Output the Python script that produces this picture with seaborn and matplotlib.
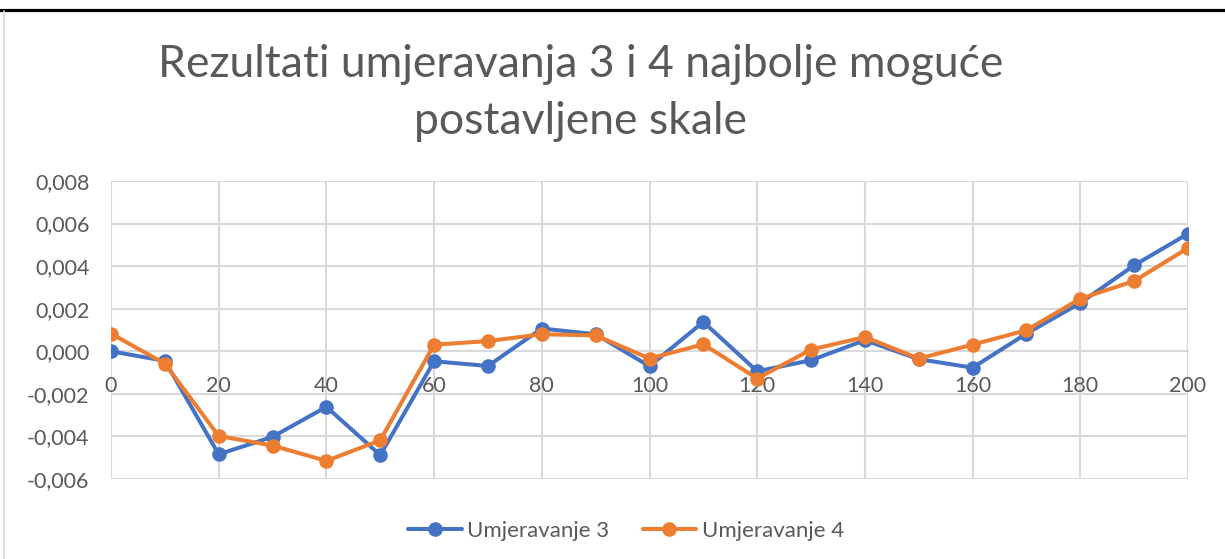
import matplotlib.pyplot as plt
import matplotlib.ticker as mticker
from matplotlib.lines import Line2D
import pandas as pd
import seaborn as sns

# Values
x_vals = [0, 10, 20, 30, 40, 50, 60, 70, 80, 90, 100,
          110, 120, 130, 140, 150, 160, 170, 180, 190, 200]
umjeravanje_3 = [0.0, -0.00045, -0.00484, -0.00402, -0.00261, -0.00488, -0.00047,
                 -0.00069, 0.00107, 0.0008, -0.0007, 0.00138, -0.00094, -0.00042,
                 0.00052, -0.00037, -0.00077, 0.00083, 0.00227, 0.00404, 0.00552]
umjeravanje_4 = [0.00083, -0.00058, -0.00398, -0.00443, -0.00515, -0.00418, 0.00031,
                 0.00048, 0.0008, 0.00075, -0.00034, 0.00033, -0.00128, 0.00008,
                 0.00067, -0.00034, 0.00031, 0.00099, 0.00247, 0.0033, 0.00485]
series_names = ["Umjeravanje 3", "Umjeravanje 4"]
y_ticks = [-0.006, -0.004, -0.002, 0.0, 0.002, 0.004, 0.006, 0.008]
x_ticks = list(range(0, 201, 20))
title_lines = ["Rezultati umjeravanja 3 i 4 najbolje moguće", "postavljene skale"]

colors = ["#4472C4", "#ED7D31"]
grid_col = "#D9D9D9"
text_col = "#595959"

sns.set_style("white")
plt.rcParams["font.family"] = ["Lato", "DejaVu Sans"]

df = pd.DataFrame({
    "x": x_vals * 2,
    "y": umjeravanje_3 + umjeravanje_4,
    "serija": [series_names[0]] * len(x_vals) + [series_names[1]] * len(x_vals),
})

fig = plt.figure(figsize=(12.25, 5.59), dpi=100)
ax = fig.add_axes([111 / 1225, 1 - 479 / 559, (1188 - 111) / 1225, (479 - 181) / 559])

sns.lineplot(data=df, x="x", y="y", hue="serija", palette=colors, marker="o",
             markersize=10.5, markeredgewidth=0, linewidth=2.9, ax=ax, legend=False,
             zorder=3)

ax.set_xlim(0, 200)
ax.set_ylim(-0.006, 0.008)
ax.set_xticks(x_ticks)
ax.set_yticks(y_ticks)
ax.yaxis.set_major_formatter(mticker.FuncFormatter(
    lambda v, p: f"{v:.3f}".replace(".", ",").replace("-0,000", "0,000")))
ax.grid(True, color=grid_col, linewidth=1.5)
ax.set_axisbelow(True)
for s in ["top", "right", "left"]:
    ax.spines[s].set_visible(False)
ax.spines["bottom"].set_position(("data", 0))
ax.spines["bottom"].set_color(grid_col)
ax.spines["bottom"].set_linewidth(1.5)
ax.tick_params(length=0, labelsize=15.5, labelcolor=text_col)
ax.tick_params(axis="y", pad=15.5)
ax.tick_params(axis="x", pad=18)
ax.set_xlabel("")
ax.set_ylabel("")

fig.text(581 / 1225, 1 - 77 / 559, title_lines[0], ha="center", va="baseline",
         fontsize=32, color=text_col)
fig.text(581 / 1225, 1 - 134 / 559, title_lines[1], ha="center", va="baseline",
         fontsize=32, color=text_col)

handles = [Line2D([], [], color=c, marker="o", markersize=10.5, markeredgewidth=0,
                  linewidth=2.9) for c in colors]
fig.legend(handles, series_names, loc="center", bbox_to_anchor=(626 / 1225, 1 - 531 / 559),
           ncol=2, frameon=False, fontsize=16, labelcolor=text_col,
           handlelength=2.4, columnspacing=1.5, handletextpad=0.25)

# page decorations around the chart
fig.add_artist(Line2D([0, 1], [1 - 9.5 / 559] * 2, color="black", linewidth=2.3))
fig.add_artist(Line2D([4 / 1225] * 2, [0, 1 - 11 / 559], color=grid_col, linewidth=1.2))

fig.savefig("out.png", dpi=100)
